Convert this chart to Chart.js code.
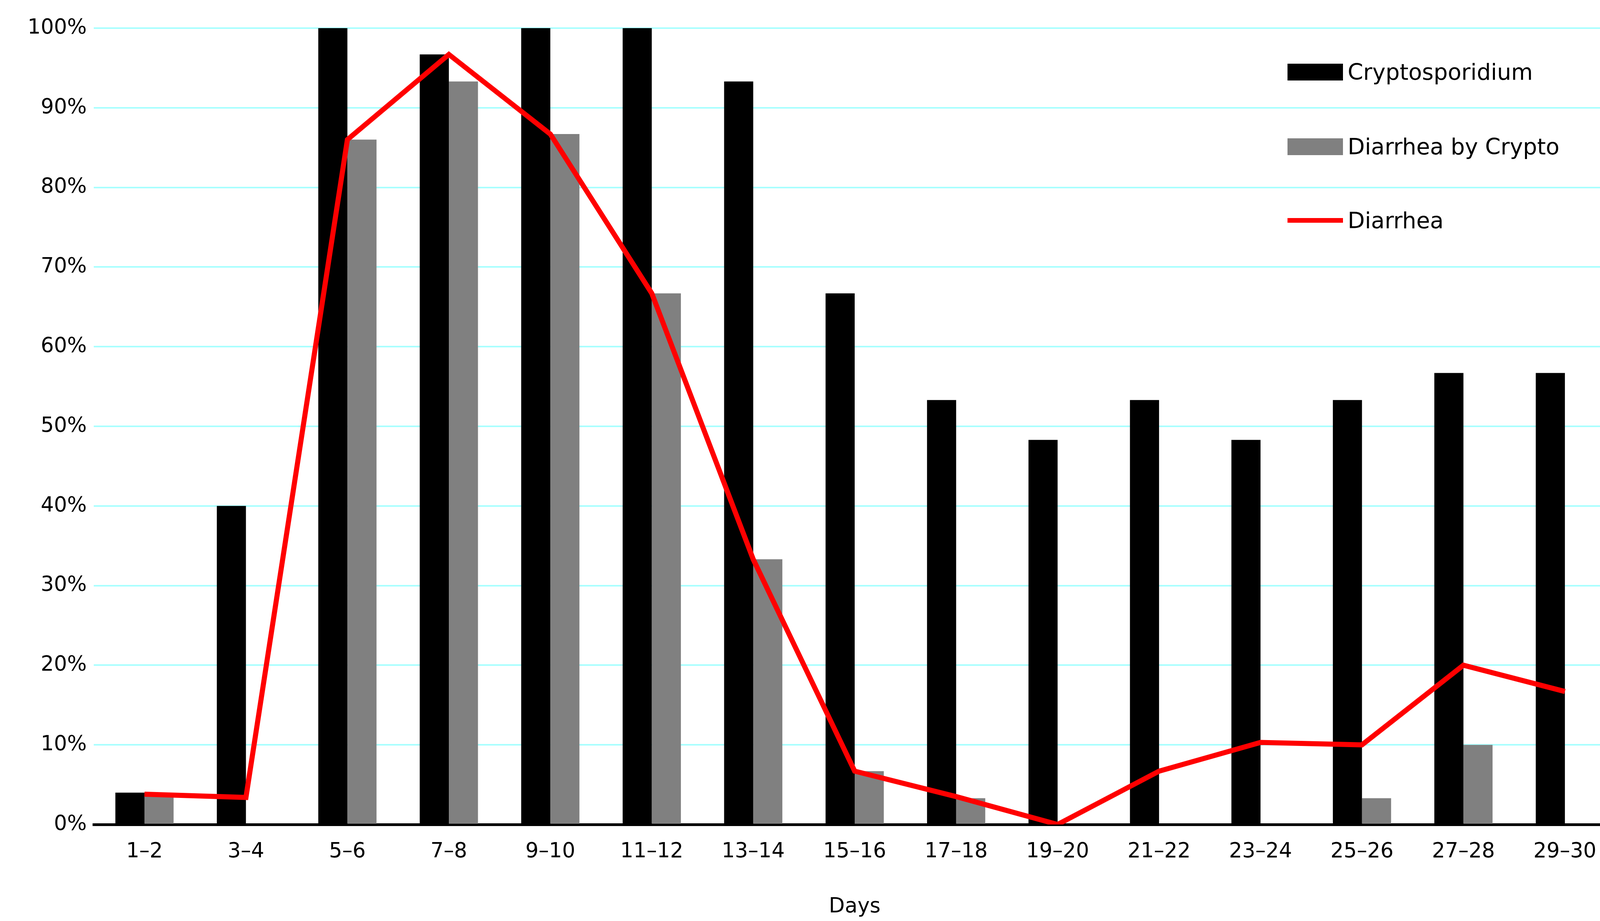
<!DOCTYPE html>
<html><head><meta charset="utf-8">
<script src="https://cdn.jsdelivr.net/npm/chart.js@4/dist/chart.umd.min.js"></script>
<style>
html,body{margin:0;padding:0;background:#fff;}
#wrap{position:relative;width:4146px;height:2357px;}
.leg{position:absolute;left:3296px;font-family:"DejaVu Sans",sans-serif;font-size:57px;color:#000;display:flex;align-items:center;height:60px;}
.sw{width:142px;height:43px;margin-right:12px;}
.ln{width:142px;height:12px;margin-right:12px;background:#ff0000;}
</style></head>
<body><div id="wrap"><canvas id="c" width="4146" height="2357"></canvas>
<div class="leg" style="top:154px"><div class="sw" style="background:#000"></div>Cryptosporidium</div>
<div class="leg" style="top:345px"><div class="sw" style="background:#808080"></div>Diarrhea by Crypto</div>
<div class="leg" style="top:534px"><div class="ln"></div>Diarrhea</div>
</div>
<script>
const categories=["1–2","3–4","5–6","7–8","9–10","11–12","13–14","15–16","17–18","19–20","21–22","23–24","25–26","27–28","29–30"];
const crypto=[4,40,100,96.7,100,100,93.3,66.7,53.3,48.3,53.3,48.3,53.3,56.7,56.7];
const diarrheaByCrypto=[3.5,0,86,93.3,86.7,66.7,33.3,6.7,3.3,0,0,0,3.3,10,0];
const diarrhea=[3.8,3.4,86,96.7,86.7,66.7,33.3,6.7,3.5,0,6.7,10.3,10,20,16.7];
const font={family:"DejaVu Sans",size:53};
new Chart(document.getElementById('c'),{
 data:{labels:categories,datasets:[
  {type:'line',label:'Diarrhea',data:diarrhea,borderColor:'#ff0000',borderWidth:13,pointRadius:0,tension:0,order:0},
  {type:'bar',label:'Cryptosporidium',data:crypto,backgroundColor:'#000',barPercentage:1,categoryPercentage:0.574,order:1},
  {type:'bar',label:'Diarrhea by Crypto',data:diarrheaByCrypto,backgroundColor:'#808080',barPercentage:1,categoryPercentage:0.574,order:1}
 ]},
 options:{responsive:false,animation:false,devicePixelRatio:1,
  layout:{padding:{top:72,right:10,left:0,bottom:0}},
  plugins:{legend:{display:false},tooltip:{enabled:false}},
  scales:{
   x:{offset:true,grid:{display:false},border:{color:'#000',width:7},
      ticks:{color:'#000',font,padding:30,maxRotation:0},
      title:{display:true,text:'Days',color:'#000',font,padding:{top:10}},
      afterFit(s){s.height=247;}},
   y:{min:0,max:100,ticks:{stepSize:10,color:'#000',font,padding:18,callback:v=>v+'%'},
      grid:{color:'#a8ffff',lineWidth:4,drawTicks:false},border:{display:false},
      afterFit(s){s.width=240;}}
  }}
});
</script></body></html>
